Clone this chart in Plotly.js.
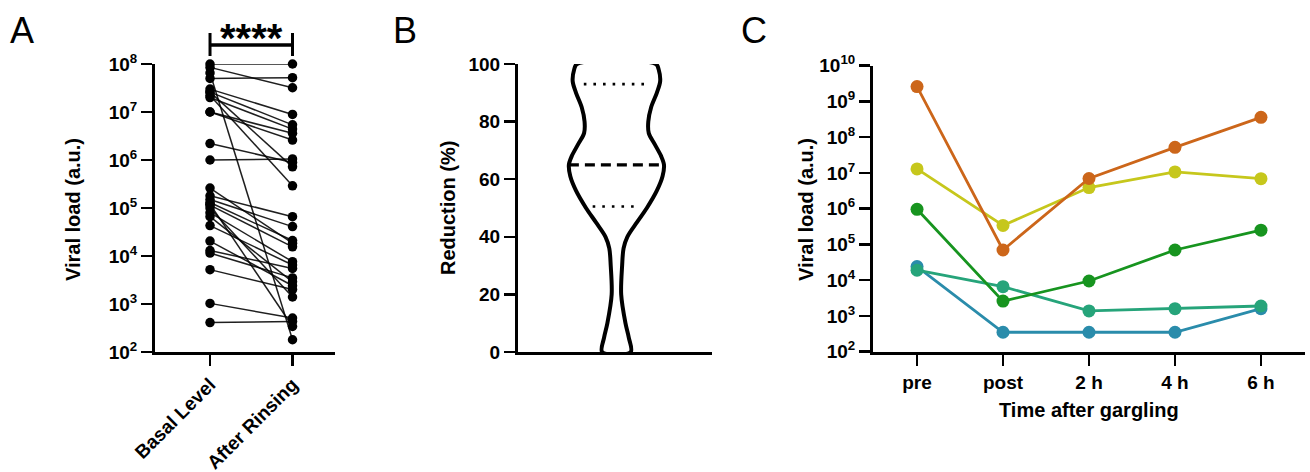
<!DOCTYPE html>
<html>
<head>
<meta charset="utf-8">
<script src="https://cdn.plot.ly/plotly-3.0.1.min.js"></script>
<style>html,body{margin:0;padding:0;background:#fff;}#chart{width:1310px;height:472px;}</style>
</head>
<body>
<div id="chart"></div>
<script>
// ---------- Panel A: paired viral loads ----------
const pairCategories = ['Basal Level', 'After Rinsing'];
const basalLevel = [1.0e8, 8.5e7, 6.5e7, 5.0e7, 3.0e7, 2.6e7, 2.2e7, 2.0e7, 1.0e7, 1.0e7, 2.2e6, 1.0e6, 2.6e7,
  2.6e5, 1.8e5, 1.5e5, 1.3e5, 1.2e5, 1.15e5, 1.0e5, 8.0e4, 6.6e4, 4.3e4, 2.05e4, 1.3e4, 1.15e4, 5.2e3, 1.03e3, 4.1e2];
const afterRinsing = [1.0e8, 3.2e7, 1.8e2, 5.2e7, 8.9e6, 5.4e6, 2.9e5, 4.4e6, 3.6e6, 2.6e6, 8.9e5, 1.05e6, 7.2e5,
  1.85e4, 6.6e4, 4.1e4, 2.1e4, 3.4e2, 1.55e4, 1.4e3, 7.6e3, 2.9e3, 6.5e3, 2.4e3, 5.5e3, 3.5e3, 2.0e3, 5.1e2, 4.3e2];
const logTickVals = [1e2, 1e3, 1e4, 1e5, 1e6, 1e7, 1e8, 1e9, 1e10];
const logTickText = ['10<sup>2</sup>', '10<sup>3</sup>', '10<sup>4</sup>', '10<sup>5</sup>', '10<sup>6</sup>',
  '10<sup>7</sup>', '10<sup>8</sup>', '10<sup>9</sup>', '10<sup>10</sup>'];
const significance = '****';

// ---------- Panel B: violin of reduction (%) ----------
const reductionLevels = [100, 98, 94, 90, 85, 80, 76, 72, 68, 65, 61, 56, 50, 45, 40, 36, 30, 20, 10, 5, 0];
const reductionDensity = [0.83, 0.89, 0.92, 0.85, 0.73, 0.67, 0.68, 0.81, 0.94, 1.0, 0.97, 0.85, 0.64, 0.43, 0.23, 0.15, 0.12, 0.10, 0.19, 0.26, 0.30];
const reductionMedian = 65;
const reductionQuartiles = [50.5, 93];
const reductionTicks = [0, 20, 40, 60, 80, 100];

// ---------- Panel C: time course ----------
const timePoints = ['pre', 'post', '2 h', '4 h', '6 h'];
const subjectBlue = [2.4e4, 3.5e2, 3.5e2, 3.5e2, 1.6e3];
const subjectTeal = [1.9e4, 6.6e3, 1.38e3, 1.6e3, 1.9e3];
const subjectGreen = [9.6e5, 2.6e3, 9.5e3, 7.0e4, 2.5e5];
const subjectYellow = [1.3e7, 3.4e5, 3.9e6, 1.07e7, 6.9e6];
const subjectOrange = [2.6e9, 7.0e4, 7.0e6, 5.2e7, 3.6e8];

// ---------- helpers ----------
const W = 1310, H = 472;
const px = v => v / W;
const py = v => (H - v) / H;
const FONT = 'Liberation Sans, Arial, sans-serif';
const tickFont = {family: FONT, size: 19, color: '#000', weight: 700};
const titleFont = {family: FONT, size: 20, color: '#000', weight: 700};

function densityAt(level) {
  for (let i = 0; i < reductionLevels.length - 1; i++) {
    const a = reductionLevels[i], b = reductionLevels[i + 1];
    if (level <= a && level >= b) {
      const t = (a - level) / (a - b);
      return reductionDensity[i] + t * (reductionDensity[i + 1] - reductionDensity[i]);
    }
  }
  return 0;
}

// paired lines
const pairX = [], pairY = [];
basalLevel.forEach((b, i) => { pairX.push(0, 1, null); pairY.push(b, afterRinsing[i], null); });

const traces = [];
traces.push({
  x: pairX, y: pairY, xaxis: 'x', yaxis: 'y', mode: 'lines+markers', type: 'scatter',
  line: {color: 'rgba(0,0,0,0.88)', width: 1.5},
  marker: {color: '#000', size: 9.5}, cliponaxis: false, showlegend: false, hoverinfo: 'skip'
});

// violin outline
const vx = [], vy = [];
reductionLevels.forEach((l, i) => { vx.push(reductionDensity[i]); vy.push(l); });
for (let i = reductionLevels.length - 1; i >= 0; i--) { vx.push(-reductionDensity[i]); vy.push(reductionLevels[i]); }
vx.push(reductionDensity[0]); vy.push(reductionLevels[0]);
traces.push({
  x: vx, y: vy, xaxis: 'x2', yaxis: 'y2', mode: 'lines', type: 'scatter',
  line: {color: '#000', width: 4, shape: 'spline', smoothing: 0.9},
  cliponaxis: false, showlegend: false, hoverinfo: 'skip'
});
const medW = densityAt(reductionMedian);
traces.push({
  x: [-medW, medW], y: [reductionMedian, reductionMedian], xaxis: 'x2', yaxis: 'y2', mode: 'lines', type: 'scatter',
  line: {color: '#000', width: 3.2, dash: '10px,6px'}, showlegend: false, hoverinfo: 'skip'
});
reductionQuartiles.forEach(q => {
  const w = densityAt(q) * 0.76;
  traces.push({
    x: [-w, w], y: [q, q], xaxis: 'x2', yaxis: 'y2', mode: 'lines', type: 'scatter',
    line: {color: '#000', width: 2.6, dash: '2.6px,7px'}, showlegend: false, hoverinfo: 'skip'
  });
});

// time course
const series = [
  {y: subjectBlue, c: '#2a8cab'},
  {y: subjectTeal, c: '#26a47a'},
  {y: subjectGreen, c: '#17941f'},
  {y: subjectYellow, c: '#c6c71c'},
  {y: subjectOrange, c: '#cc661a'}
];
series.forEach(s => traces.push({
  x: timePoints, y: s.y, xaxis: 'x3', yaxis: 'y3', mode: 'lines+markers', type: 'scatter',
  line: {color: s.c, width: 2.8}, marker: {color: s.c, size: 13},
  cliponaxis: false, showlegend: false, hoverinfo: 'skip'
}));

const axisCommon = {
  showline: true, linecolor: '#000', linewidth: 3, showgrid: false, zeroline: false,
  ticks: 'outside', ticklen: 11, tickwidth: 2.5, tickcolor: '#000', tickfont: tickFont, fixedrange: true
};
const yDomain = [py(352), py(64)];

const layout = {
  width: W, height: H, margin: {l: 0, r: 0, t: 0, b: 0},
  paper_bgcolor: '#fff', plot_bgcolor: 'rgba(0,0,0,0)', showlegend: false,
  xaxis: Object.assign({}, axisCommon, {
    domain: [px(155), px(335)], anchor: 'y', range: [-0.667, 1.515],
    tickvals: [0, 1], ticktext: pairCategories, tickangle: -45
  }),
  yaxis: Object.assign({}, axisCommon, {
    domain: yDomain, anchor: 'x', type: 'log', range: [2, 8],
    tickvals: logTickVals.slice(0, 7), ticktext: logTickText.slice(0, 7)
  }),
  xaxis2: Object.assign({}, axisCommon, {
    domain: [px(518), px(712)], anchor: 'y2', range: [-2.07, 2.01], ticks: '', showticklabels: false
  }),
  yaxis2: Object.assign({}, axisCommon, {
    domain: yDomain, anchor: 'x2', range: [0, 100], tickvals: reductionTicks
  }),
  xaxis3: Object.assign({}, axisCommon, {
    domain: [px(873), px(1305)], anchor: 'y3', type: 'category', range: [-0.512, 4.512]
  }),
  yaxis3: Object.assign({}, axisCommon, {
    domain: [py(351.7), py(65.7)], anchor: 'x3', type: 'log', range: [2, 10],
    tickvals: logTickVals, ticktext: logTickText
  }),
  shapes: [
    {type: 'line', xref: 'x', yref: 'paper', x0: 0, x1: 1, y0: py(45), y1: py(45), line: {color: '#000', width: 3.5}},
    {type: 'line', xref: 'x', yref: 'paper', x0: 0, x1: 0, y0: py(33), y1: py(56), line: {color: '#000', width: 3}},
    {type: 'line', xref: 'x', yref: 'paper', x0: 1, x1: 1, y0: py(33), y1: py(56), line: {color: '#000', width: 3}}
  ],
  annotations: [
    {text: significance, xref: 'x', yref: 'paper', x: 0.5, y: py(38), xanchor: 'center', yanchor: 'middle',
      showarrow: false, font: {family: FONT, size: 40, color: '#000', weight: 700}},
    {text: 'A', xref: 'paper', yref: 'paper', x: px(8), y: py(8), xanchor: 'left', yanchor: 'top', showarrow: false,
      font: {family: FONT, size: 36, color: '#000'}},
    {text: 'B', xref: 'paper', yref: 'paper', x: px(391), y: py(8), xanchor: 'left', yanchor: 'top', showarrow: false,
      font: {family: FONT, size: 36, color: '#000'}},
    {text: 'C', xref: 'paper', yref: 'paper', x: px(739), y: py(8), xanchor: 'left', yanchor: 'top', showarrow: false,
      font: {family: FONT, size: 36, color: '#000'}},
    {text: 'Viral load (a.u.)', xref: 'paper', yref: 'paper', x: px(73), y: py(210), textangle: -90,
      xanchor: 'center', yanchor: 'middle', showarrow: false, font: titleFont},
    {text: 'Reduction (%)', xref: 'paper', yref: 'paper', x: px(448), y: py(208), textangle: -90,
      xanchor: 'center', yanchor: 'middle', showarrow: false, font: titleFont},
    {text: 'Viral load (a.u.)', xref: 'paper', yref: 'paper', x: px(806), y: py(210), textangle: -90,
      xanchor: 'center', yanchor: 'middle', showarrow: false, font: titleFont},
    {text: 'Time after gargling', xref: 'paper', yref: 'paper', x: px(1089), y: py(410),
      xanchor: 'center', yanchor: 'middle', showarrow: false, font: titleFont}
  ]
};

Plotly.newPlot('chart', traces, layout, {staticPlot: true, displayModeBar: false});
</script>
</body>
</html>
